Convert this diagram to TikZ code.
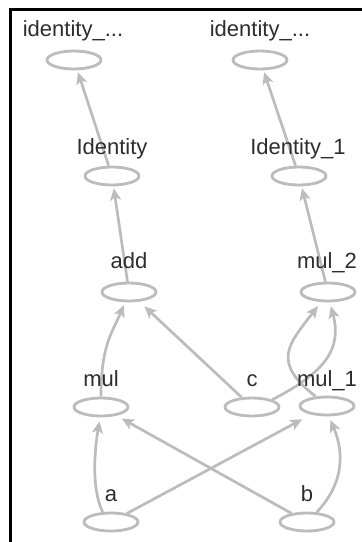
\documentclass[tikz,border=0pt]{standalone}
\usepackage{fontspec}
\setmainfont{Liberation Sans}
\usetikzlibrary{shapes.geometric,arrows.meta}
\definecolor{edgegray}{RGB}{188,188,188}
\definecolor{labelgray}{RGB}{45,45,45}
\begin{document}
\begin{tikzpicture}[x=1pt,y=-1pt,
  opnode/.style={ellipse,draw=edgegray,line width=2.8pt,fill=white,
    minimum width=54pt,minimum height=18pt,inner sep=0pt},
  lbl/.style={anchor=base,text=labelgray,inner sep=0pt,
    font=\fontsize{22}{24}\selectfont},
  edge/.style={draw=edgegray,line width=2.7pt,
    -{Stealth[length=12pt,width=11pt,inset=3pt]},shorten >=2pt}]
\useasboundingbox (0,0) rectangle (362,542);
% frame edges
\draw[line width=3pt] (10.5,542) -- (10.5,9.7) -- (362,9.7);

% graph nodes
\node[opnode] (idL) at (74,60) {};
\node[opnode] (idR) at (260,60) {};
\node[opnode] (Id) at (112,176) {};
\node[opnode] (Id1) at (299,176) {};
\node[opnode] (add) at (129,292) {};
\node[opnode] (mul2) at (328,292) {};
\node[opnode] (mul) at (101,407) {};
\node[opnode] (c) at (252,407) {};
\node[opnode] (mul1) at (327,406) {};
\node[opnode] (a) at (111,522) {};
\node[opnode] (b) at (307,522) {};

% data flow
\draw[edge] (Id) -- (idL);
\draw[edge] (Id1) -- (idR);
\draw[edge] (add) -- (Id);
\draw[edge] (mul2) -- (Id1);
\draw[edge,shorten >=3pt] (mul.north) .. controls +(0,-50) and +(-14,32) .. (add.-110);
\draw[edge,shorten >=7pt] (c) -- (add);
\draw[edge,shorten >=4pt] (c.20) .. controls +(55,-28) and +(12,45) .. (mul2.-80);
\draw[edge,shorten >=5pt] (mul1.140) .. controls +(-45,-35) and +(-32,42) .. (mul2.-125);
\draw[edge,shorten >=4pt] (a.130) .. controls +(-12,-25) and +(-5,30) .. (mul.-95);
\draw[edge,shorten >=10pt] (a) -- (mul1);
\draw[edge,shorten >=6pt] (b) -- (mul);
\draw[edge,shorten >=4pt] (b.45) .. controls +(28,-30) and +(15,35) .. (mul1.-80);

% node names
\node[lbl] (idLt) at (73,36) {identity\_...};
\node[lbl] (idRt) at (260,36) {identity\_...};
\node[lbl] (Idt) at (112,154) {Identity};
\node[lbl] (Id1t) at (298,154) {Identity\_1};
\node[lbl] (addt) at (129,268) {add};
\node[lbl] (mul2t) at (327,268) {mul\_2};
\node[lbl] (mult) at (101,386) {mul};
\node[lbl] (ct) at (252,386) {c};
\node[lbl] (mul1t) at (327,386) {mul\_1};
\node[lbl] (at) at (111,501) {a};
\node[lbl] (bt) at (307,501) {b};
\end{tikzpicture}
\end{document}
